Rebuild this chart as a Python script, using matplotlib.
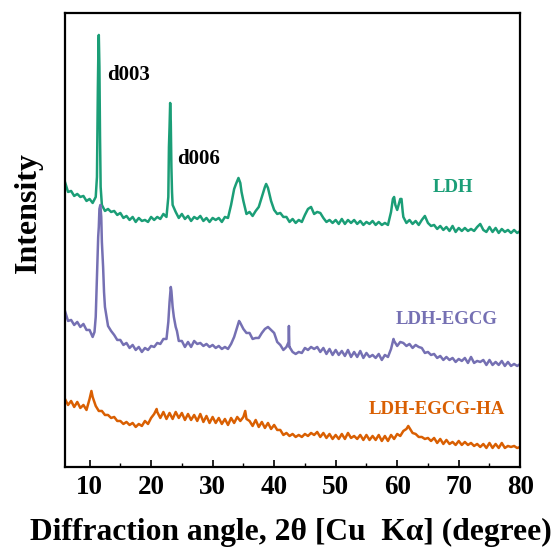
import numpy as np
import matplotlib
matplotlib.use("Agg")
import matplotlib.pyplot as plt

##--------------------------------------##
##        DATOS    ##
##--------------------------------------##
## rejilla base 6..80 grados, paso 0.5
two_theta = np.arange(6.0, 80.01, 0.5)

ldh = [285, 275, 276, 271, 273, 270, 271, 266, 268, 264,
       270, 432, 262, 256, 258, 255, 256, 252, 254, 249,
       251, 247, 250, 245, 249, 246, 247, 245, 250, 247,
       250, 248, 253, 250, 340, 262, 255, 249, 253, 248,
       251, 246, 250, 248, 251, 246, 249, 245, 249, 247,
       249, 245, 250, 249, 262, 278, 286, 284, 266, 253,
       255, 251, 256, 260, 270, 280, 279, 266, 257, 253,
       254, 250, 250, 245, 248, 244, 247, 245, 252, 258,
       260, 253, 255, 254, 249, 245, 247, 244, 247, 243,
       248, 243, 247, 244, 247, 243, 246, 242, 245, 243,
       246, 242, 245, 242, 244, 242, 255, 270, 257, 268,
       250, 244, 247, 243, 246, 242, 247, 251, 244, 241,
       242, 238, 241, 237, 240, 236, 241, 235, 239, 236,
       239, 236, 238, 236, 240, 243, 237, 235, 240, 235,
       239, 234, 238, 235, 237, 234, 237, 234, 236]
## puntos extra en los picos
ldh_px = [11.2, 11.35, 11.45, 11.6, 11.7, 11.8, 22.8, 22.9, 23.1, 23.2, 23.3, 23.4,
          33.8, 34.2, 34.7, 38.7, 59.3, 59.7, 60.7, 60.9]
ldh_py = [290, 380, 425, 400, 330, 280, 270, 320, 364, 345, 300, 275,
          283, 289, 275, 283, 268, 262, 268, 255]

egcg = [156, 146, 147, 142, 145, 140, 143, 137, 137, 130,
        150, 240, 225, 160, 141, 136, 132, 127, 127, 122,
        124, 119, 122, 117, 120, 115, 119, 117, 121, 120,
        124, 123, 128, 128, 165, 160, 140, 126, 126, 120,
        125, 120, 126, 123, 124, 121, 123, 120, 122, 119,
        121, 118, 120, 118, 123, 130, 140, 144, 138, 134,
        134, 128, 129, 129, 134, 138, 140, 137, 134, 125,
        122, 117, 120, 120, 115, 113, 115, 114, 119, 117,
        120, 118, 120, 115, 119, 113, 118, 112, 117, 112,
        116, 111, 117, 110, 115, 110, 116, 109, 114, 110,
        112, 109, 113, 107, 112, 110, 118, 126, 121, 125,
        124, 121, 123, 119, 122, 120, 119, 114, 115, 112,
        113, 109, 111, 107, 110, 107, 109, 105, 108, 106,
        109, 104, 110, 104, 106, 105, 107, 102, 107, 102,
        105, 102, 106, 101, 105, 101, 103, 101, 103]
egcg_px = [10.8, 11.2, 11.4, 11.6, 11.75, 11.9, 12.2, 12.35, 22.8, 23.2, 23.3, 23.7,
           24.2, 34.3, 42.35, 42.4, 42.47, 59.4]
egcg_py = [135, 190, 230, 258, 262, 250, 200, 175, 145, 180, 176, 150,
           136, 146, 125, 141, 120, 128]

egcg_ha = [68, 62, 66, 60, 65, 59, 62, 57, 68, 70,
           61, 56, 56, 52, 52, 49, 50, 46, 46, 43,
           45, 42, 44, 40, 43, 41, 46, 43, 49, 53,
           55, 49, 55, 48, 54, 48, 55, 49, 54, 47,
           53, 47, 52, 46, 53, 45, 51, 44, 50, 44,
           49, 43, 48, 42, 49, 44, 50, 46, 50, 48,
           46, 41, 47, 40, 45, 39, 44, 38, 42, 37,
           37, 32, 34, 31, 33, 30, 32, 30, 33, 31,
           34, 32, 35, 30, 34, 29, 33, 28, 32, 28,
           33, 28, 34, 29, 31, 28, 32, 27, 32, 27,
           31, 27, 32, 26, 31, 26, 32, 28, 33, 31,
           36, 38, 39, 34, 33, 30, 30, 28, 29, 26,
           29, 24, 28, 23, 27, 23, 25, 22, 26, 22,
           25, 22, 24, 21, 23, 20, 23, 19, 24, 19,
           23, 19, 24, 19, 21, 20, 21, 19, 20]
egcg_ha_px = [10.3, 20.9, 35.3, 61.8]
egcg_ha_py = [76, 58, 56, 41]

names = ["LDH", "LDH-EGCG", "LDH-EGCG-HA"]
colores = ["#1b9e77", "#7570b3", "#d95f02"]


def juntar(base, px, py):
    x = np.concatenate([two_theta, px])
    y = np.concatenate([base, py])
    orden = np.argsort(x)
    return x[orden], y[orden]


##--------------------------------------##
##               FIGURA                 ##
##--------------------------------------##
plt.rcParams['font.family'] = ['Liberation Serif', 'DejaVu Serif']
plt.rcParams['font.weight'] = 'bold'

fig = plt.figure(figsize=(5.6, 5.51), dpi=100)
ax = fig.add_axes([0.116, 0.1525, 0.813, 0.824])

series = [juntar(ldh, ldh_px, ldh_py),
          juntar(egcg, egcg_px, egcg_py),
          juntar(egcg_ha, egcg_ha_px, egcg_ha_py)]
for (x, y), c in zip(series, colores):
    ax.plot(x, y, '-', color=c, lw=1.8)

ax.set_xlim(6, 80)
ax.set_ylim(0, 454)
ax.set_xticks(np.arange(10, 81, 10))
ax.set_xticks(np.arange(15, 80, 10), minor=True)
ax.set_yticks([])
ax.tick_params(axis='x', which='major', direction='in', length=5, width=1.2, labelsize=19.5, pad=6)
ax.tick_params(axis='x', which='minor', direction='in', length=3, width=1.0)
for lab in ax.get_xticklabels():
    lab.set_fontweight('bold')
for sp in ax.spines.values():
    sp.set_linewidth(1.6)

## titulos de ejes
fig.text(0.519, 0.02, "Diffraction angle, 2θ [Cu  Kα] (degree)", fontsize=22.7, fontweight='bold',
         ha='center', va='baseline')
fig.text(0.05, 0.615, "Intensity", fontsize=23, fontweight='bold', rotation=90,
         ha='center', va='center')

## etiquetas
ax.text(12.8, 392, "d003", fontsize=15, fontweight='bold', va='center', ha='left')
ax.text(24.2, 308, "d006", fontsize=15, fontweight='bold', va='center', ha='left')
ax.text(69.0, 279, names[0], color=colores[0], fontsize=13.5, fontweight='bold', va='center', ha='center')
ax.text(68.0, 147, names[1], color=colores[1], fontsize=13.5, fontweight='bold', va='center', ha='center')
ax.text(66.5, 57, names[2], color=colores[2], fontsize=13.5, fontweight='bold', va='center', ha='center')

fig.savefig("out.png", dpi=100)
